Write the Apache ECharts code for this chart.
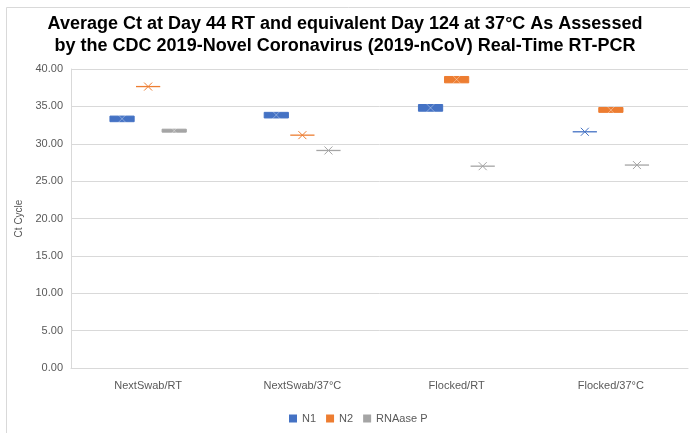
<!DOCTYPE html>
<html>
<head>
<meta charset="utf-8">
<script src="https://cdn.jsdelivr.net/npm/echarts@6/dist/echarts.min.js"></script>
<style>html,body{margin:0;padding:0;background:#fff;}#chart{width:690px;height:433px;}</style>
</head>
<body>
<div id="chart"></div>
<script>
const categories = ['NextSwab/RT', 'NextSwab/37°C', 'Flocked/RT', 'Flocked/37°C'];
const seriesNames = ['N1', 'N2', 'RNAase P'];
const yTicks = [0, 5, 10, 15, 20, 25, 30, 35, 40];

// Box lower edge (Q1), upper edge (Q3) and mean (X marker)
const n1Low  = [32.95, 33.45, 34.35, 31.6];
const n1High = [33.7, 34.2, 35.25, 31.6];
const n1Mean = [33.35, 33.85, 34.8, 31.6];

const n2Low  = [37.65, 31.15, 38.15, 34.2];
const n2High = [37.65, 31.15, 39.0, 34.85];
const n2Mean = [37.65, 31.15, 38.6, 34.5];

const rnLow  = [31.55, 29.1, 27.0, 27.15];
const rnHigh = [31.95, 29.1, 27.0, 27.15];
const rnMean = [31.75, 29.1, 27.0, 27.15];

const colors = ['#4472C4', '#ED7D31', '#A5A5A5'];
const lows = [n1Low, n2Low, rnLow];
const highs = [n1High, n2High, rnHigh];
const means = [n1Mean, n2Mean, rnMean];

function makeRender(idx) {
  return function (params, api) {
    const cat = api.value(0);
    const lo = api.value(1), hi = api.value(2), mean = api.value(3);
    const band = api.size([1, 0])[0];
    const off = (idx - 1) * band * 0.169;
    const w = band * 0.157;
    const pLo = api.coord([cat, lo]);
    const pHi = api.coord([cat, hi]);
    const pM = api.coord([cat, mean]);
    const cx = pLo[0] + off;
    const col = colors[idx];
    const children = [];
    const flat = Math.abs(pLo[1] - pHi[1]) < 1;
    if (flat) {
      children.push({
        type: 'line',
        shape: {x1: cx - w / 2, y1: pLo[1], x2: cx + w / 2, y2: pLo[1]},
        style: {stroke: col, lineWidth: 1.3}
      });
    } else {
      children.push({
        type: 'rect',
        shape: {x: cx - w / 2, y: pHi[1], width: w, height: pLo[1] - pHi[1]},
        style: {fill: col, stroke: col, lineWidth: 1}
      });
    }
    const s = 4;
    const xc = flat ? col : 'rgba(255,255,255,0.35)';
    children.push({
      type: 'line',
      shape: {x1: cx - s, y1: pM[1] - s, x2: cx + s, y2: pM[1] + s},
      style: {stroke: xc, lineWidth: 1}
    });
    children.push({
      type: 'line',
      shape: {x1: cx - s, y1: pM[1] + s, x2: cx + s, y2: pM[1] - s},
      style: {stroke: xc, lineWidth: 1}
    });
    return {type: 'group', children: children};
  };
}

const series = seriesNames.map(function (name, idx) {
  return {
    name: name,
    type: 'custom',
    renderItem: makeRender(idx),
    itemStyle: {color: colors[idx]},
    encode: {x: 0, y: [1, 2, 3]},
    data: categories.map(function (c, i) {
      return [i, lows[idx][i], highs[idx][i], means[idx][i]];
    })
  };
});

const chart = echarts.init(document.getElementById('chart'), null, {renderer: 'canvas'});
chart.setOption({
  animation: false,
  backgroundColor: '#ffffff',
  title: {
    text: 'Average Ct at Day 44 RT and equivalent Day 124 at 37°C As Assessed\nby the CDC 2019-Novel Coronavirus (2019-nCoV) Real-Time RT-PCR',
    left: 'center',
    top: 13,
    padding: 0,
    textStyle: {
      fontFamily: 'Liberation Sans, Arial, sans-serif',
      fontWeight: 'bold',
      fontSize: 18,
      lineHeight: 22,
      color: '#000000'
    }
  },
  graphic: [{
    type: 'rect',
    shape: {x: 6.5, y: 7.5, width: 700, height: 440},
    style: {fill: 'none', stroke: '#D9D9D9', lineWidth: 1},
    silent: true,
    z: -10
  }],
  legend: {
    left: 284,
    top: 408,
    itemWidth: 8,
    itemHeight: 8,
    itemGap: 10,
    icon: 'rect',
    itemStyle: {borderWidth: 0},
    textStyle: {fontFamily: 'Liberation Sans, Arial, sans-serif', fontSize: 11, color: '#595959'},
    data: seriesNames
  },
  grid: {left: 71, right: 2, top: 69, bottom: 65, containLabel: false},
  xAxis: {
    type: 'category',
    data: categories,
    axisLine: {show: true, lineStyle: {color: '#D9D9D9', width: 1}},
    axisTick: {show: false},
    axisLabel: {
      margin: 12,
      fontFamily: 'Liberation Sans, Arial, sans-serif',
      fontSize: 11,
      color: '#595959'
    },
    splitLine: {show: false}
  },
  yAxis: {
    type: 'value',
    min: yTicks[0],
    max: yTicks[yTicks.length - 1],
    interval: 5,
    name: 'Ct Cycle',
    nameLocation: 'middle',
    nameRotate: 90,
    nameGap: 42,
    nameTextStyle: {fontFamily: 'Liberation Sans, Arial, sans-serif', fontSize: 10, color: '#595959'},
    axisLine: {show: true, lineStyle: {color: '#D9D9D9', width: 1}},
    axisTick: {show: false},
    axisLabel: {
      margin: 8,
      fontFamily: 'Liberation Sans, Arial, sans-serif',
      fontSize: 11,
      color: '#595959',
      formatter: function (v) { return v.toFixed(2); }
    },
    splitLine: {show: true, lineStyle: {color: '#D9D9D9', width: 1}}
  },
  series: series
});
</script>
</body>
</html>
